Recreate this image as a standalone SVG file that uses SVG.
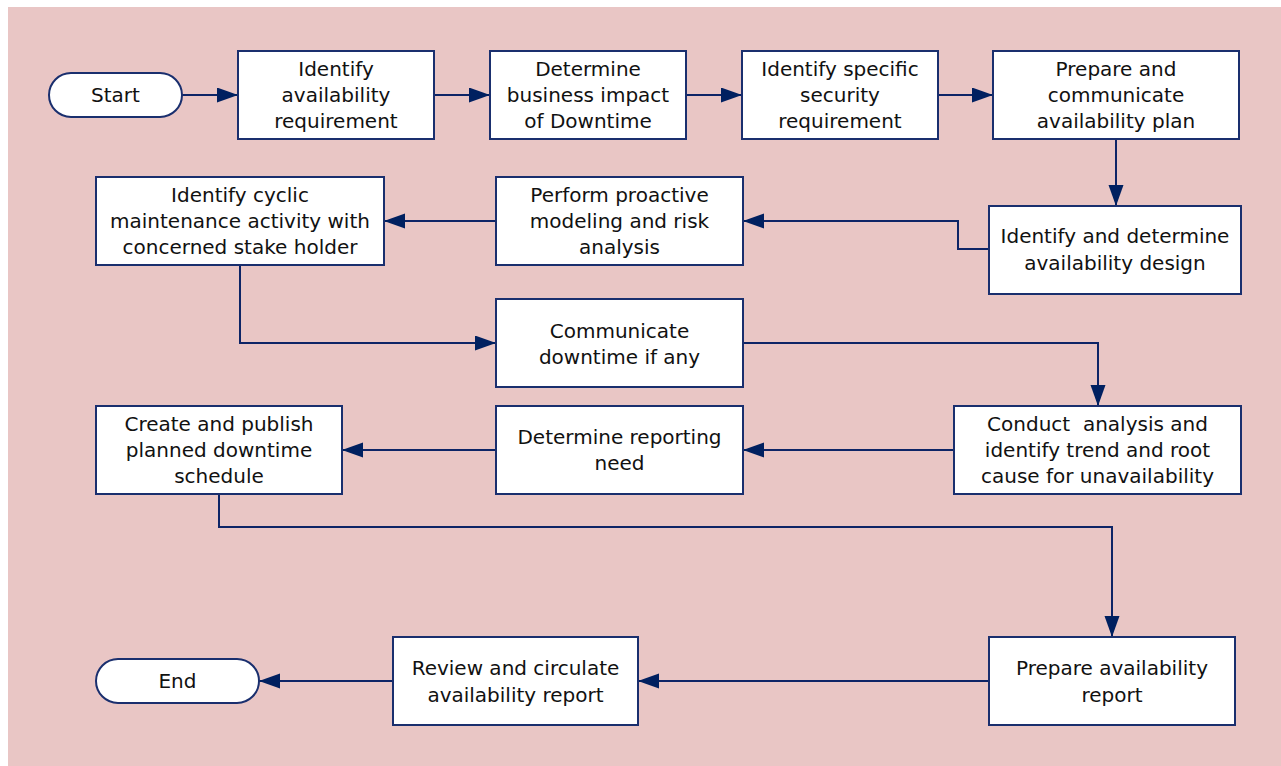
<svg xmlns="http://www.w3.org/2000/svg" width="1281" height="766" viewBox="0 0 1281 766">
<style>
.bx{fill:#ffffff;stroke:#1a2f6e;stroke-width:2}
.pl{fill:#ffffff;stroke:#1a2f6e;stroke-width:2}
.t{font-family:"DejaVu Sans","Verdana",sans-serif;font-size:20px;fill:#111111;text-anchor:middle}
.c{fill:none;stroke:#0d2466;stroke-width:2}
</style>
<defs>
<marker id="ah" markerUnits="userSpaceOnUse" markerWidth="22" markerHeight="16" refX="21" refY="7.5" orient="auto">
<path d="M0,0 L21,7.5 L0,15 z" fill="#002060"/>
</marker>
</defs>
<rect x="0" y="0" width="1281" height="766" fill="#ffffff"/>
<rect x="8" y="7" width="1273" height="759" fill="#e9c6c5"/>
<g id="connectors">
<path class="c" d="M182,95 L238,95" marker-end="url(#ah)"/>
<path class="c" d="M434,95 L490,95" marker-end="url(#ah)"/>
<path class="c" d="M686,95 L742,95" marker-end="url(#ah)"/>
<path class="c" d="M938,95 L993,95" marker-end="url(#ah)"/>
<path class="c" d="M1116,139 L1116,206" marker-end="url(#ah)"/>
<path class="c" d="M989,249 L958,249 L958,221 L743,221" marker-end="url(#ah)"/>
<path class="c" d="M496,221 L384,221" marker-end="url(#ah)"/>
<path class="c" d="M240,265 L240,343 L496,343" marker-end="url(#ah)"/>
<path class="c" d="M743,343 L1098,343 L1098,406" marker-end="url(#ah)"/>
<path class="c" d="M954,450 L743,450" marker-end="url(#ah)"/>
<path class="c" d="M496,450 L342,450" marker-end="url(#ah)"/>
<path class="c" d="M219,494 L219,527 L1112,527 L1112,637" marker-end="url(#ah)"/>
<path class="c" d="M989,681 L638,681" marker-end="url(#ah)"/>
<path class="c" d="M393,681 L259,681" marker-end="url(#ah)"/>
</g>
<g id="start">
<rect class="pl" x="49" y="73" width="133" height="44" rx="22" ry="22"/>
<text class="t" x="115.5" y="102">Start</text>
</g>
<g id="n1">
<rect class="bx" x="238" y="51" width="196" height="88"/>
<text class="t" x="336" y="76">Identify</text>
<text class="t" x="336" y="102">availability</text>
<text class="t" x="336" y="128">requirement</text>
</g>
<g id="n2">
<rect class="bx" x="490" y="51" width="196" height="88"/>
<text class="t" x="588" y="76">Determine</text>
<text class="t" x="588" y="102">business impact</text>
<text class="t" x="588" y="128">of Downtime</text>
</g>
<g id="n3">
<rect class="bx" x="742" y="51" width="196" height="88"/>
<text class="t" x="840" y="76">Identify specific</text>
<text class="t" x="840" y="102">security</text>
<text class="t" x="840" y="128">requirement</text>
</g>
<g id="n4">
<rect class="bx" x="993" y="51" width="246" height="88"/>
<text class="t" x="1116" y="76">Prepare and</text>
<text class="t" x="1116" y="102">communicate</text>
<text class="t" x="1116" y="128">availability plan</text>
</g>
<g id="n5">
<rect class="bx" x="989" y="206" width="252" height="88"/>
<text class="t" x="1115" y="243">Identify and determine</text>
<text class="t" x="1115" y="270">availability design</text>
</g>
<g id="n6">
<rect class="bx" x="496" y="177" width="247" height="88"/>
<text class="t" x="619.5" y="202">Perform proactive</text>
<text class="t" x="619.5" y="228">modeling and risk</text>
<text class="t" x="619.5" y="254">analysis</text>
</g>
<g id="n7">
<rect class="bx" x="96" y="177" width="288" height="88"/>
<text class="t" x="240" y="202">Identify cyclic</text>
<text class="t" x="240" y="228">maintenance activity with</text>
<text class="t" x="240" y="254">concerned stake holder</text>
</g>
<g id="n8">
<rect class="bx" x="496" y="299" width="247" height="88"/>
<text class="t" x="619.5" y="338">Communicate</text>
<text class="t" x="619.5" y="364">downtime if any</text>
</g>
<g id="n9">
<rect class="bx" x="954" y="406" width="287" height="88"/>
<text class="t" x="1097.5" y="431" xml:space="preserve">Conduct  analysis and</text>
<text class="t" x="1097.5" y="457">identify trend and root</text>
<text class="t" x="1097.5" y="483">cause for unavailability</text>
</g>
<g id="n10">
<rect class="bx" x="496" y="406" width="247" height="88"/>
<text class="t" x="619.5" y="444">Determine reporting</text>
<text class="t" x="619.5" y="470">need</text>
</g>
<g id="n11">
<rect class="bx" x="96" y="406" width="246" height="88"/>
<text class="t" x="219" y="431">Create and publish</text>
<text class="t" x="219" y="457">planned downtime</text>
<text class="t" x="219" y="483">schedule</text>
</g>
<g id="n12">
<rect class="bx" x="989" y="637" width="246" height="88"/>
<text class="t" x="1112" y="675">Prepare availability</text>
<text class="t" x="1112" y="702">report</text>
</g>
<g id="n13">
<rect class="bx" x="393" y="637" width="245" height="88"/>
<text class="t" x="515.5" y="675">Review and circulate</text>
<text class="t" x="515.5" y="702">availability report</text>
</g>
<g id="end">
<rect class="pl" x="96" y="659" width="163" height="44" rx="22" ry="22"/>
<text class="t" x="177.5" y="688">End</text>
</g>
</svg>
